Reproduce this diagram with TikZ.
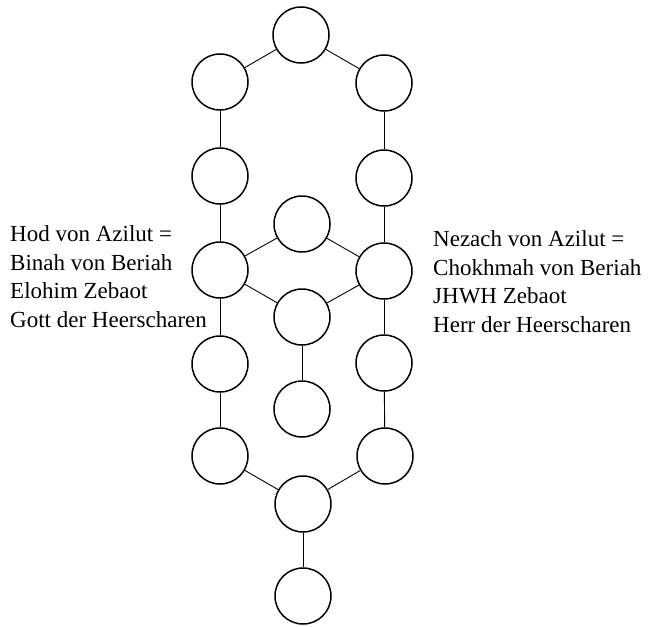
\documentclass[tikz,border=0pt]{standalone}
\usepackage{fontspec}
\setmainfont{Liberation Serif}
\begin{document}
\begin{tikzpicture}[x=1pt,y=-1pt,
  sef/.style={circle,draw,line width=1.5pt,minimum size=56pt,inner sep=0pt},
  link/.style={line width=0.9pt},
  lbl/.style={align=left,inner sep=0pt,anchor=base west,
    font=\fontsize{23}{28.5}\selectfont}]
\useasboundingbox (0,0) rectangle (650,626);
\node[sef] (T)  at (301,35) {};
\node[sef] (L1) at (220,82) {};
\node[sef] (R1) at (384,83) {};
\node[sef] (L2) at (220,176) {};
\node[sef] (R2) at (384,178) {};
\node[sef] (MU) at (302,224) {};
\node[sef] (L3) at (220,270) {};
\node[sef] (R3) at (384,271) {};
\node[sef] (ML) at (302,317) {};
\node[sef] (L4) at (220,364) {};
\node[sef] (R4) at (384,363) {};
\node[sef] (M)  at (302,409) {};
\node[sef] (L5) at (220,456) {};
\node[sef] (R5) at (385,456) {};
\node[sef] (BM) at (303,504) {};
\node[sef] (B)  at (303,596) {};
\draw[link] (T) -- (L1);
\draw[link] (T) -- (R1);
\draw[link] (L1) -- (L2);
\draw[link] (R1) -- (R2);
\draw[link] (L2) -- (L3);
\draw[link] (R2) -- (R3);
\draw[link] (L3) -- (MU);
\draw[link] (R3) -- (MU);
\draw[link] (L3) -- (ML);
\draw[link] (R3) -- (ML);
\draw[link] (ML) -- (M);
\draw[link] (L3) -- (L4);
\draw[link] (R3) -- (R4);
\draw[link] (L4) -- (L5);
\draw[link] (R4) -- (R5);
\draw[link] (L5) -- (BM);
\draw[link] (R5) -- (BM);
\draw[link] (BM) -- (B);
\node[lbl] (hod) at (10,327) {Hod von Azilut =\\Binah von Beriah\\Elohim Zebaot\\Gott der Heerscharen};
\node[lbl] (nez) at (433,332) {Nezach von Azilut =\\Chokhmah von Beriah\\JHWH Zebaot\\Herr der Heerscharen};
\end{tikzpicture}
\end{document}
